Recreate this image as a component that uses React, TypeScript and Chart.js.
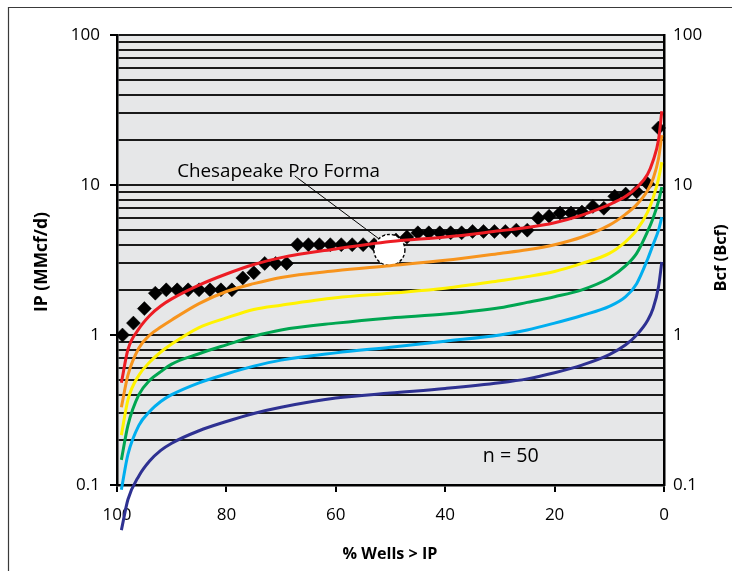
import React, { useEffect, useRef } from 'react';
import { Chart, registerables } from 'chart.js';

Chart.register(...registerables);

const FONT = "'Open Sans', sans-serif";

// Individual wells (% of wells with IP greater than value)
const wellPct = [
  99, 97, 95, 93, 91, 89, 87, 85, 83, 81,
  79, 77, 75, 73, 71, 69, 67, 65, 63, 61,
  59, 57, 55, 53, 51, 49, 47, 45, 43, 41,
  39, 37, 35, 33, 31, 29, 27, 25, 23, 21,
  19, 17, 15, 13, 11, 9, 7, 5, 3, 1,
];
const wellIP = [
  1.0, 1.2, 1.5, 1.9, 2.0, 2.0, 2.0, 2.0, 2.0, 2.0,
  2.0, 2.4, 2.6, 3.0, 3.0, 3.0, 4.0, 4.0, 4.0, 4.0,
  4.0, 4.0, 4.0, 4.0, 4.2, 4.3, 4.5, 4.8, 4.8, 4.8,
  4.8, 4.8, 4.9, 4.9, 4.9, 4.9, 5.0, 5.0, 6.0, 6.2,
  6.5, 6.5, 6.6, 7.2, 7.0, 8.4, 8.7, 9.0, 10.2, 24,
];

// Type curves
const curvePct = [99.2, 98, 96, 94, 92, 90, 85, 80, 75, 70, 60, 50, 40, 30, 25, 20, 15, 10, 7, 5, 3, 2, 1, 0.4];
const redCurve = [0.48, 0.8, 1.1, 1.35, 1.56, 1.74, 2.15, 2.55, 2.95, 3.28, 3.75, 4.2, 4.5, 4.95, 5.2, 5.6, 6.3, 7.4, 8.4, 9.6, 11.8, 14.5, 20, 31];
const orangeCurve = [0.33, 0.54, 0.82, 1.0, 1.13, 1.26, 1.62, 1.95, 2.2, 2.42, 2.68, 2.9, 3.15, 3.5, 3.7, 4.0, 4.5, 5.4, 6.4, 7.4, 9.2, 11, 15, 21.5];
const yellowCurve = [0.215, 0.37, 0.54, 0.66, 0.77, 0.87, 1.12, 1.3, 1.48, 1.58, 1.77, 1.9, 2.05, 2.3, 2.45, 2.65, 3.0, 3.5, 4.2, 5.0, 6.6, 8.2, 11, 14.2];
const greenCurve = [0.147, 0.25, 0.4, 0.5, 0.57, 0.64, 0.75, 0.86, 0.98, 1.08, 1.2, 1.3, 1.38, 1.52, 1.65, 1.8, 2.0, 2.4, 2.9, 3.5, 4.9, 6.0, 7.8, 9.7];
const lightBlueCurve = [0.093, 0.16, 0.25, 0.31, 0.36, 0.4, 0.48, 0.55, 0.62, 0.68, 0.76, 0.83, 0.91, 1.0, 1.08, 1.2, 1.35, 1.55, 1.8, 2.2, 3.2, 4.0, 5.0, 6.1];
const darkBlueCurve = [0.05, 0.08, 0.115, 0.145, 0.17, 0.19, 0.23, 0.265, 0.3, 0.33, 0.38, 0.41, 0.44, 0.48, 0.51, 0.56, 0.63, 0.74, 0.86, 1.0, 1.25, 1.5, 2.1, 3.07];

const curveSeries = [
  { name: 'red', color: '#ED1C24', values: redCurve },
  { name: 'orange', color: '#F7941D', values: orangeCurve },
  { name: 'yellow', color: '#FFF200', values: yellowCurve },
  { name: 'green', color: '#00A651', values: greenCurve },
  { name: 'lightblue', color: '#00AEEF', values: lightBlueCurve },
  { name: 'darkblue', color: '#2E3192', values: darkBlueCurve },
];

// Axis ticks
const xTicks = [100, 80, 60, 40, 20, 0];
const yTicks = [
  0.1, 0.2, 0.3, 0.4, 0.5, 0.6, 0.7, 0.8, 0.9,
  1, 2, 3, 4, 5, 6, 7, 8, 9,
  10, 20, 30, 40, 50, 60, 70, 80, 90, 100,
];
const yMajor = [0.1, 1, 10, 100];

// Annotation anchors (data units)
const annotationText = 'Chesapeake Pro Forma';
const annotationTextAt = { x: 89.0, y: 11.3 };
const annotationLineFrom = { x: 67.5, y: 11.5 };
const annotationLineTo = { x: 52.3, y: 4.43 };
const proFormaPoint = { x: 50.2, y: 3.69 };
const countText = 'n = 50';
const countTextAt = { x: 28, y: 0.142 };

const isMajor = (v: number) => yMajor.some((m) => Math.abs(m - v) < 1e-9);

function fitFont(ctx: CanvasRenderingContext2D, text: string, width: number, weight: string) {
  ctx.font = `${weight} 20px ${FONT}`;
  const w = ctx.measureText(text).width;
  const size = (20 * width) / w;
  ctx.font = `${weight} ${size}px ${FONT}`;
}

export default function App() {
  const canvasRef = useRef<HTMLCanvasElement | null>(null);

  useEffect(() => {
    const canvas = canvasRef.current;
    if (!canvas) return;

    const decorPlugin = {
      id: 'decor',
      beforeDraw(chart: any) {
        const { ctx, chartArea } = chart;
        ctx.save();
        ctx.fillStyle = '#ffffff';
        ctx.fillRect(0, 0, chart.width, chart.height);
        ctx.fillStyle = '#e6e7e8';
        ctx.fillRect(chartArea.left, chartArea.top, chartArea.right - chartArea.left, chartArea.bottom - chartArea.top);
        // outer frame
        ctx.strokeStyle = '#3a3a3a';
        ctx.lineWidth = 1.2;
        ctx.beginPath();
        ctx.moveTo(8.5, chart.height + 2);
        ctx.lineTo(8.5, 7.5);
        ctx.lineTo(chart.width + 2, 7.5);
        ctx.stroke();
        ctx.restore();
      },
      afterDatasetDraw(chart: any, args: any) {
        if (chart.data.datasets[args.index].label !== 'Wells') return;
        const { ctx } = chart;
        const xs = chart.scales.x;
        const ys = chart.scales.y;
        const cx = xs.getPixelForValue(proFormaPoint.x);
        const cy = ys.getPixelForValue(proFormaPoint.y);
        ctx.save();
        ctx.beginPath();
        ctx.arc(cx, cy, 15.5, 0, Math.PI * 2);
        ctx.fillStyle = '#ffffff';
        ctx.fill();
        ctx.setLineDash([3, 2]);
        ctx.lineWidth = 1.4;
        ctx.strokeStyle = '#000';
        ctx.stroke();
        ctx.restore();
      },
      afterDraw(chart: any) {
        const { ctx } = chart;
        const xs = chart.scales.x;
        const ys = chart.scales.y;
        ctx.save();
        ctx.fillStyle = '#000';
        // annotation text
        fitFont(ctx, annotationText, 203, '400');
        ctx.textAlign = 'left';
        ctx.textBaseline = 'alphabetic';
        ctx.fillText(annotationText, xs.getPixelForValue(annotationTextAt.x), ys.getPixelForValue(annotationTextAt.y));
        // leader line
        ctx.strokeStyle = '#000';
        ctx.lineWidth = 1;
        ctx.beginPath();
        ctx.moveTo(xs.getPixelForValue(annotationLineFrom.x), ys.getPixelForValue(annotationLineFrom.y));
        ctx.lineTo(xs.getPixelForValue(annotationLineTo.x), ys.getPixelForValue(annotationLineTo.y));
        ctx.stroke();
        // n = 50
        fitFont(ctx, countText, 56, '400');
        ctx.textAlign = 'center';
        ctx.fillText(countText, xs.getPixelForValue(countTextAt.x), ys.getPixelForValue(countTextAt.y));
        // x title
        fitFont(ctx, '% Wells > IP', 95, '700');
        ctx.textAlign = 'center';
        ctx.fillText('% Wells > IP', 390, 559);
        // left title
        ctx.save();
        ctx.translate(47, 262);
        ctx.rotate(-Math.PI / 2);
        fitFont(ctx, 'IP (MMcf/d)', 100, '700');
        ctx.textAlign = 'center';
        ctx.fillText('IP (MMcf/d)', 0, 0);
        ctx.restore();
        // right title
        ctx.save();
        ctx.translate(726, 258);
        ctx.rotate(-Math.PI / 2);
        fitFont(ctx, 'Bcf (Bcf)', 67, '700');
        ctx.textAlign = 'center';
        ctx.fillText('Bcf (Bcf)', 0, 0);
        ctx.restore();
        ctx.restore();
      },
    };

    const lineDatasets = curveSeries.map((s) => ({
      type: 'line' as const,
      label: s.name,
      data: curvePct.map((x, i) => ({ x, y: s.values[i] })),
      borderColor: s.color,
      backgroundColor: s.color,
      borderWidth: 3,
      pointRadius: 0,
      fill: false,
      cubicInterpolationMode: 'monotone' as const,
      clip: false as any,
    }));

    const wellDataset = {
      type: 'scatter' as const,
      label: 'Wells',
      data: wellPct.map((x, i) => ({ x, y: wellIP[i] })),
      pointStyle: 'rectRot' as const,
      pointRadius: 7,
      backgroundColor: '#000',
      borderColor: '#000',
      borderWidth: 0.5,
      clip: false as any,
    };

    const setTicks = (scale: any) => {
      scale.ticks = yTicks.map((v) => ({ value: v, major: isMajor(v) }));
    };
    const yLabel = (v: any) => {
      const n = Number(v);
      if (!isMajor(n)) return '';
      return n < 1 ? '0.1' : String(Math.round(n));
    };

    const chart = new Chart(canvas, {
      data: { datasets: [...lineDatasets, wellDataset] as any },
      options: {
        animation: false,
        responsive: true,
        maintainAspectRatio: false,
        layout: { padding: { top: 35, left: 0, right: 0, bottom: 0 } },
        plugins: { legend: { display: false }, tooltip: { enabled: false } },
        scales: {
          x: {
            type: 'linear',
            min: 0,
            max: 100,
            reverse: true,
            afterBuildTicks: (scale: any) => {
              scale.ticks = xTicks.map((v) => ({ value: v }));
            },
            afterFit: (scale: any) => {
              scale.height = 86;
            },
            ticks: {
              color: '#000',
              font: { family: FONT, size: 17 },
              padding: 13,
              maxRotation: 0,
              autoSkip: false,
            },
            grid: {
              drawOnChartArea: false,
              drawTicks: true,
              tickLength: 7,
              tickColor: '#000',
              tickWidth: 2,
              color: '#000',
              lineWidth: 2,
            },
            border: { display: true, color: '#000', width: 2.5 },
          },
          y: {
            type: 'logarithmic',
            position: 'left',
            min: 0.1,
            max: 100,
            afterBuildTicks: setTicks,
            afterFit: (scale: any) => {
              scale.width = 117;
            },
            ticks: {
              color: '#000',
              font: { family: FONT, size: 17 },
              padding: 10,
              autoSkip: false,
              callback: yLabel,
            },
            grid: {
              drawOnChartArea: true,
              drawTicks: true,
              tickLength: 7,
              color: '#1a1a1a',
              lineWidth: 2,
              tickColor: (ctx: any) => (ctx.tick && isMajor(ctx.tick.value) ? '#000' : 'rgba(0,0,0,0)'),
              tickWidth: 2,
            },
            border: { display: true, color: '#000', width: 2.5 },
          },
          y2: {
            type: 'logarithmic',
            position: 'right',
            min: 0.1,
            max: 100,
            afterBuildTicks: setTicks,
            afterFit: (scale: any) => {
              scale.width = 68;
            },
            ticks: {
              color: '#000',
              font: { family: FONT, size: 17 },
              padding: 9,
              autoSkip: false,
              callback: yLabel,
            },
            grid: { drawOnChartArea: false, drawTicks: false },
            border: { display: true, color: '#000', width: 2.5 },
          },
        },
      } as any,
      plugins: [decorPlugin],
    });

    return () => {
      chart.destroy();
    };
  }, []);

  return (
    <div style={{ position: 'absolute', left: 0, top: 0, width: 732, height: 571 }}>
      <canvas ref={canvasRef} style={{ width: '100%', height: '100%' }} />
    </div>
  );
}
